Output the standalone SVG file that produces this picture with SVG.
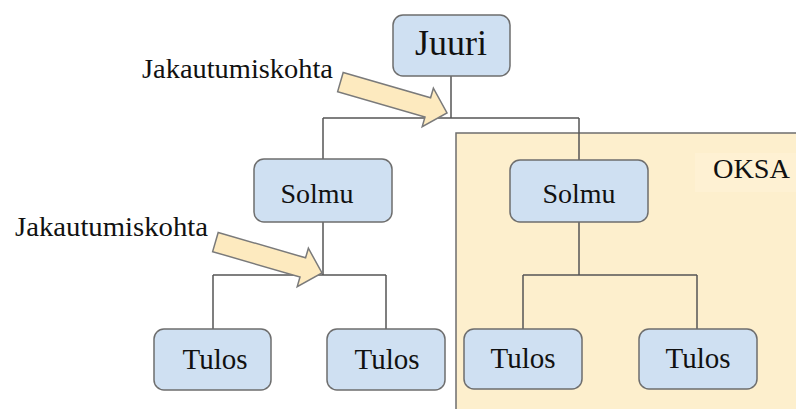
<svg xmlns="http://www.w3.org/2000/svg" width="796" height="409" viewBox="0 0 796 409">
<style>
.node rect{fill:#cfe0f2;stroke:#6e6e6e;stroke-width:1.5}
text{font-family:"Liberation Serif","Times New Roman",serif;fill:#111}
.lbl{font-size:28px;text-anchor:middle}
.tl{font-size:29px}
.conn{fill:none;stroke:#555;stroke-width:1.5}
.arrow{fill:#fdeabf;stroke:#7a7a7a;stroke-width:1.5;stroke-linejoin:miter}
</style>
<defs>
<path id="bigArrow" d="M -111,-10 L -20,-10 L -20,-20 L 0,0 L -20,20 L -20,10 L -111,10 Z"/>
</defs>
<rect width="796" height="409" fill="#ffffff"/>
<g id="oksa">
<rect x="456" y="133" width="345" height="285" fill="#fdefcd" stroke="#6e6e6e" stroke-width="1.5"/>
<rect x="695" y="153" width="101" height="39" fill="#fef1d3"/>
<text x="713" y="178" font-size="27" textLength="77" lengthAdjust="spacingAndGlyphs">OKSA</text>
</g>
<g id="connectors">
<path class="conn" d="M451,76 V118 M323,118 H579 M323,118 V159 M579,118 V160"/>
<path class="conn" d="M323,222 V275 M213,275 H386 M213,275 V329 M386,275 V329"/>
<path class="conn" d="M579,222 V275 M523,275 H697 M523,275 V329 M697,275 V329"/>
</g>
<g id="juuri" class="node">
<rect x="393" y="15" width="117" height="61" rx="10"/>
<text class="lbl" x="451" y="55" font-size="36" textLength="72" lengthAdjust="spacingAndGlyphs" style="font-size:36px">Juuri</text>
</g>
<g id="solmu-left" class="node">
<rect x="254" y="159" width="138" height="63" rx="10"/>
<text class="lbl" x="317" y="203">Solmu</text>
</g>
<g id="solmu-right" class="node">
<rect x="510" y="160" width="138" height="62" rx="10"/>
<text class="lbl" x="579" y="203">Solmu</text>
</g>
<g id="tulos-1" class="node">
<rect x="154" y="329" width="117" height="61" rx="10"/>
<text class="lbl tl" x="215" y="369">Tulos</text>
</g>
<g id="tulos-2" class="node">
<rect x="327" y="329" width="118" height="61" rx="10"/>
<text class="lbl tl" x="387" y="369">Tulos</text>
</g>
<g id="tulos-3" class="node">
<rect x="464" y="329" width="118" height="60" rx="10"/>
<text class="lbl tl" x="523" y="368">Tulos</text>
</g>
<g id="tulos-4" class="node">
<rect x="639" y="329" width="118" height="60" rx="10"/>
<text class="lbl tl" x="698" y="368">Tulos</text>
</g>
<g id="split-1">
<use href="#bigArrow" class="arrow" transform="translate(447,113) rotate(16.2)"/>
<text x="142" y="78" font-size="27" textLength="191" lengthAdjust="spacingAndGlyphs">Jakautumiskohta</text>
</g>
<g id="split-2">
<use href="#bigArrow" class="arrow" transform="translate(322,273) rotate(16.2)"/>
<text x="15" y="236" font-size="27" textLength="193" lengthAdjust="spacingAndGlyphs">Jakautumiskohta</text>
</g>
</svg>
